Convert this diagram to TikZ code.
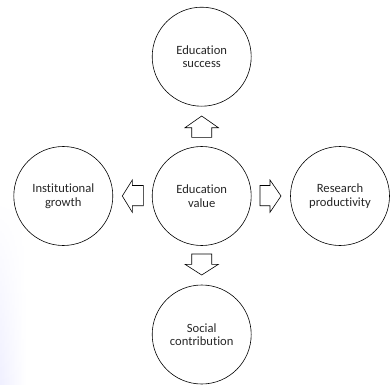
\documentclass[tikz,border=0pt]{standalone}
\usepackage{fontspec}
\setmainfont{Carlito}[Ligatures={NoCommon}]
\usetikzlibrary{fadings}
\begin{document}
\begin{tikzpicture}[x=1pt,y=-1pt,
  circ/.style={draw, circle, minimum size=99pt, inner sep=0pt, line width=0.6pt,
    align=center, font=\fontsize{12.6}{13.5}\selectfont, text=black!85},
  blockarrow/.style={draw, line width=0.6pt, fill=white, line join=miter}]
\useasboundingbox (0,0) rectangle (390,385);
\shade[left color=blue!6, right color=white, path fading=north] (0,200) rectangle (26,385);
\node[circ] (top) at (201.7,56.7) {Education\\success};
\node[circ] (mid) at (201.7,196) {Education\\value};
\node[circ] (left) at (63.3,196) {Institutional\\growth};
\node[circ] (right) at (340,196) {Research\\productivity};
\node[circ] (bot) at (201.7,334.5) {Social\\contribution};
% up arrow
\draw[blockarrow] (191.7,137.3) -- (191.7,127.7) -- (185,127.7) -- (201.7,116) -- (218.4,127.7) -- (211.7,127.7) -- (211.7,137.3) -- cycle;
% down arrow
\draw[blockarrow] (191.7,254) -- (191.7,264.3) -- (185,264.3) -- (201.7,275) -- (218.4,264.3) -- (211.7,264.3) -- (211.7,254) -- cycle;
% left arrow
\draw[blockarrow] (143.3,185.5) -- (132.3,185.5) -- (132.3,180) -- (122.3,196) -- (132.3,212.3) -- (132.3,205.7) -- (143.3,205.7) -- cycle;
% right arrow
\draw[blockarrow] (260,185.5) -- (270,185.5) -- (270,180) -- (281,196) -- (270,212.3) -- (270,205.7) -- (260,205.7) -- cycle;
\end{tikzpicture}
\end{document}
